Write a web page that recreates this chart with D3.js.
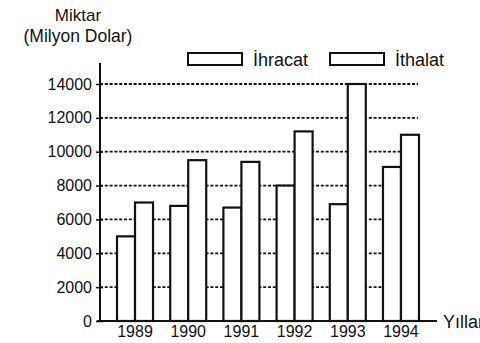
<!DOCTYPE html>
<html>
<head>
<meta charset="utf-8">
<script src="https://cdn.jsdelivr.net/npm/d3@7/dist/d3.min.js"></script>
<style>
  html, body { margin: 0; padding: 0; background: #fff; }
  svg { display: block; font-family: "Liberation Sans", Arial, sans-serif; }
</style>
</head>
<body>
<svg id="chart" width="480" height="343"></svg>
<script>
// Yıllara göre ihracat ve ithalat (milyon dolar)
const years = ["1989", "1990", "1991", "1992", "1993", "1994"];
const seriesNames = ["İhracat", "İthalat"];
const ihracat = [5000, 6800, 6700, 8000, 6900, 9100];
const ithalat = [7000, 9500, 9400, 11200, 14000, 11000];
const yTicks = [0, 2000, 4000, 6000, 8000, 10000, 12000, 14000];

const svg = d3.select("#chart");
const ink = "#111";

const x = d3.scaleBand().domain(years).range([100, 436])
  .paddingInner(0.323).paddingOuter(0.32);
const xs = d3.scaleBand().domain(seriesNames).range([0, x.bandwidth()]);
const y = d3.scaleLinear().domain([0, 14000]).range([321, 84]);

// kesikli yatay kılavuz çizgileri
svg.append("g")
  .selectAll("line")
  .data(yTicks.filter(d => d > 0))
  .join("line")
  .attr("x1", 100).attr("x2", 418)
  .attr("y1", d => y(d)).attr("y2", d => y(d))
  .attr("stroke", ink).attr("stroke-width", 1.8)
  .attr("stroke-dasharray", "3,1.8");

// çubuklar
const rows = years.map((yr, i) => ({ year: yr, values: [ihracat[i], ithalat[i]] }));
const groups = svg.append("g").selectAll("g")
  .data(rows).join("g")
  .attr("transform", d => `translate(${x(d.year)},0)`);
groups.selectAll("rect")
  .data(d => d.values.map((v, j) => ({ name: seriesNames[j], value: v })))
  .join("rect")
  .attr("x", d => xs(d.name))
  .attr("y", d => y(d.value))
  .attr("width", xs.bandwidth())
  .attr("height", d => y(0) - y(d.value))
  .attr("fill", "#fff")
  .attr("stroke", ink)
  .attr("stroke-width", 2.2);

// y ekseni
const yAxis = svg.append("g")
  .attr("transform", "translate(100,0)")
  .call(d3.axisLeft(y).tickValues(yTicks).tickSize(4).tickPadding(4).tickFormat(d3.format("d")));
yAxis.select(".domain").remove();
yAxis.selectAll(".tick line").attr("x2", 3).attr("x1", -4).attr("stroke", ink).attr("stroke-width", 1.5);
yAxis.selectAll(".tick text")
  .attr("font-size", 16).attr("fill", ink)
  .attr("font-family", "Liberation Sans, Arial, sans-serif");
svg.append("line")
  .attr("x1", 100).attr("x2", 100)
  .attr("y1", y(0)).attr("y2", 63)
  .attr("stroke", ink).attr("stroke-width", 2);

// x ekseni
svg.append("line")
  .attr("x1", 97).attr("x2", 437)
  .attr("y1", y(0)).attr("y2", y(0))
  .attr("stroke", ink).attr("stroke-width", 2);
svg.append("g").selectAll("text")
  .data(years).join("text")
  .attr("x", d => x(d) + x.bandwidth() / 2)
  .attr("y", 337)
  .attr("text-anchor", "middle")
  .attr("font-size", 16).attr("fill", ink)
  .text(d => d);

// eksen başlıkları
svg.append("text").attr("x", 78).attr("y", 21).attr("text-anchor", "middle")
  .attr("font-size", 17).attr("fill", ink).text("Miktar");
svg.append("text").attr("x", 78).attr("y", 42).attr("text-anchor", "middle")
  .attr("font-size", 17.5).attr("fill", ink).text("(Milyon Dolar)");
svg.append("text").attr("x", 443).attr("y", 328)
  .attr("font-size", 18).attr("fill", ink).text("Yıllar");

// açıklama
const legendX = [188, 330];
const legend = svg.append("g").selectAll("g")
  .data(seriesNames).join("g")
  .attr("transform", (d, i) => `translate(${legendX[i]},53)`);
legend.append("rect")
  .attr("width", 54).attr("height", 12)
  .attr("fill", "#fff").attr("stroke", ink).attr("stroke-width", 2);
legend.append("text")
  .attr("x", 65).attr("y", 13)
  .attr("font-size", 18).attr("fill", ink)
  .text(d => d);
</script>
</body>
</html>
